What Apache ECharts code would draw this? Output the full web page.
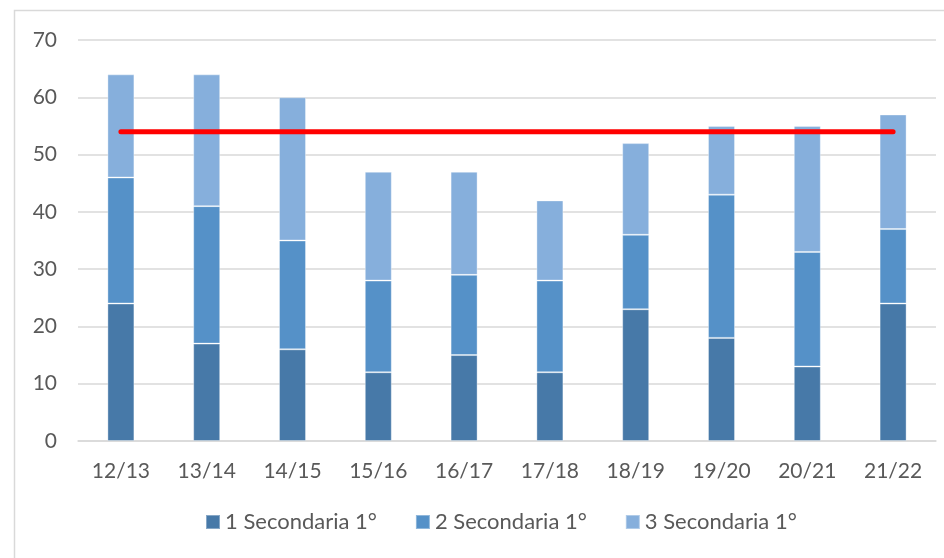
<!DOCTYPE html>
<html>
<head>
<meta charset="utf-8">
<script src="https://cdn.jsdelivr.net/npm/echarts@6/dist/echarts.min.js"></script>
<style>
  html, body { margin: 0; padding: 0; background: #fff; }
  #chart { width: 944px; height: 558px; }
</style>
</head>
<body>
<div id="chart"></div>
<script>
"use strict";

var categories = ['12/13', '13/14', '14/15', '15/16', '16/17', '17/18', '18/19', '19/20', '20/21', '21/22'];
var seriesNames = ['1 Secondaria 1°', '2 Secondaria 1°', '3 Secondaria 1°'];
var first = [24, 17, 16, 12, 15, 12, 23, 18, 13, 24];
var second = [22, 24, 19, 16, 14, 16, 13, 25, 20, 13];
var third = [18, 23, 25, 19, 18, 14, 16, 12, 22, 20];
var refLine = [54, 54, 54, 54, 54, 54, 54, 54, 54, 54];

var colors = ['#4779a8', '#5591c8', '#86afdc'];
var font = 'Lato, "Open Sans", sans-serif';

var chart = echarts.init(document.getElementById('chart'), null, { renderer: 'canvas' });

function barSeries(name, data, idx) {
    return {
        name: name,
        type: 'bar',
        stack: 'total',
        data: data,
        barWidth: 27,
        itemStyle: {
            color: colors[idx],
            borderColor: 'rgba(255,255,255,0.35)',
            borderWidth: 1
        },
        emphasis: { disabled: true }
    };
}

var option = {
    animation: false,
    textStyle: { fontFamily: font },
    graphic: [{
        type: 'rect',
        shape: { x: 14.5, y: 10.5, width: 1000, height: 700 },
        style: { fill: 'none', stroke: '#d9d9d9', lineWidth: 1.5 },
        silent: true
    }],
    grid: {
        left: 78,
        right: 8,
        top: 40,
        bottom: 117
    },
    legend: {
        data: seriesNames,
        bottom: 20,
        left: 200,
        itemWidth: 14,
        itemHeight: 14,
        itemGap: 38,
        icon: 'rect',
        textStyle: { fontSize: 22, color: '#595959', fontFamily: font }
    },
    xAxis: {
        type: 'category',
        data: categories,
        axisLine: { lineStyle: { color: '#d9d9d9', width: 1.5 } },
        axisTick: { show: false },
        axisLabel: { fontSize: 21, color: '#595959', margin: 20, fontFamily: font }
    },
    yAxis: {
        type: 'value',
        min: 0,
        max: 70,
        interval: 10,
        axisLine: { show: false },
        axisTick: { show: false },
        axisLabel: { fontSize: 21, color: '#595959', margin: 21, fontFamily: font },
        splitLine: { lineStyle: { color: '#d9d9d9', width: 1.5 } }
    },
    series: [
        barSeries(seriesNames[0], first, 0),
        barSeries(seriesNames[1], second, 1),
        barSeries(seriesNames[2], third, 2),
        {
            name: 'media',
            type: 'line',
            data: refLine,
            symbol: 'none',
            lineStyle: { color: '#ff0000', width: 5, cap: 'round' },
            z: 5,
            silent: true
        }
    ]
};

chart.setOption(option);
</script>
</body>
</html>
